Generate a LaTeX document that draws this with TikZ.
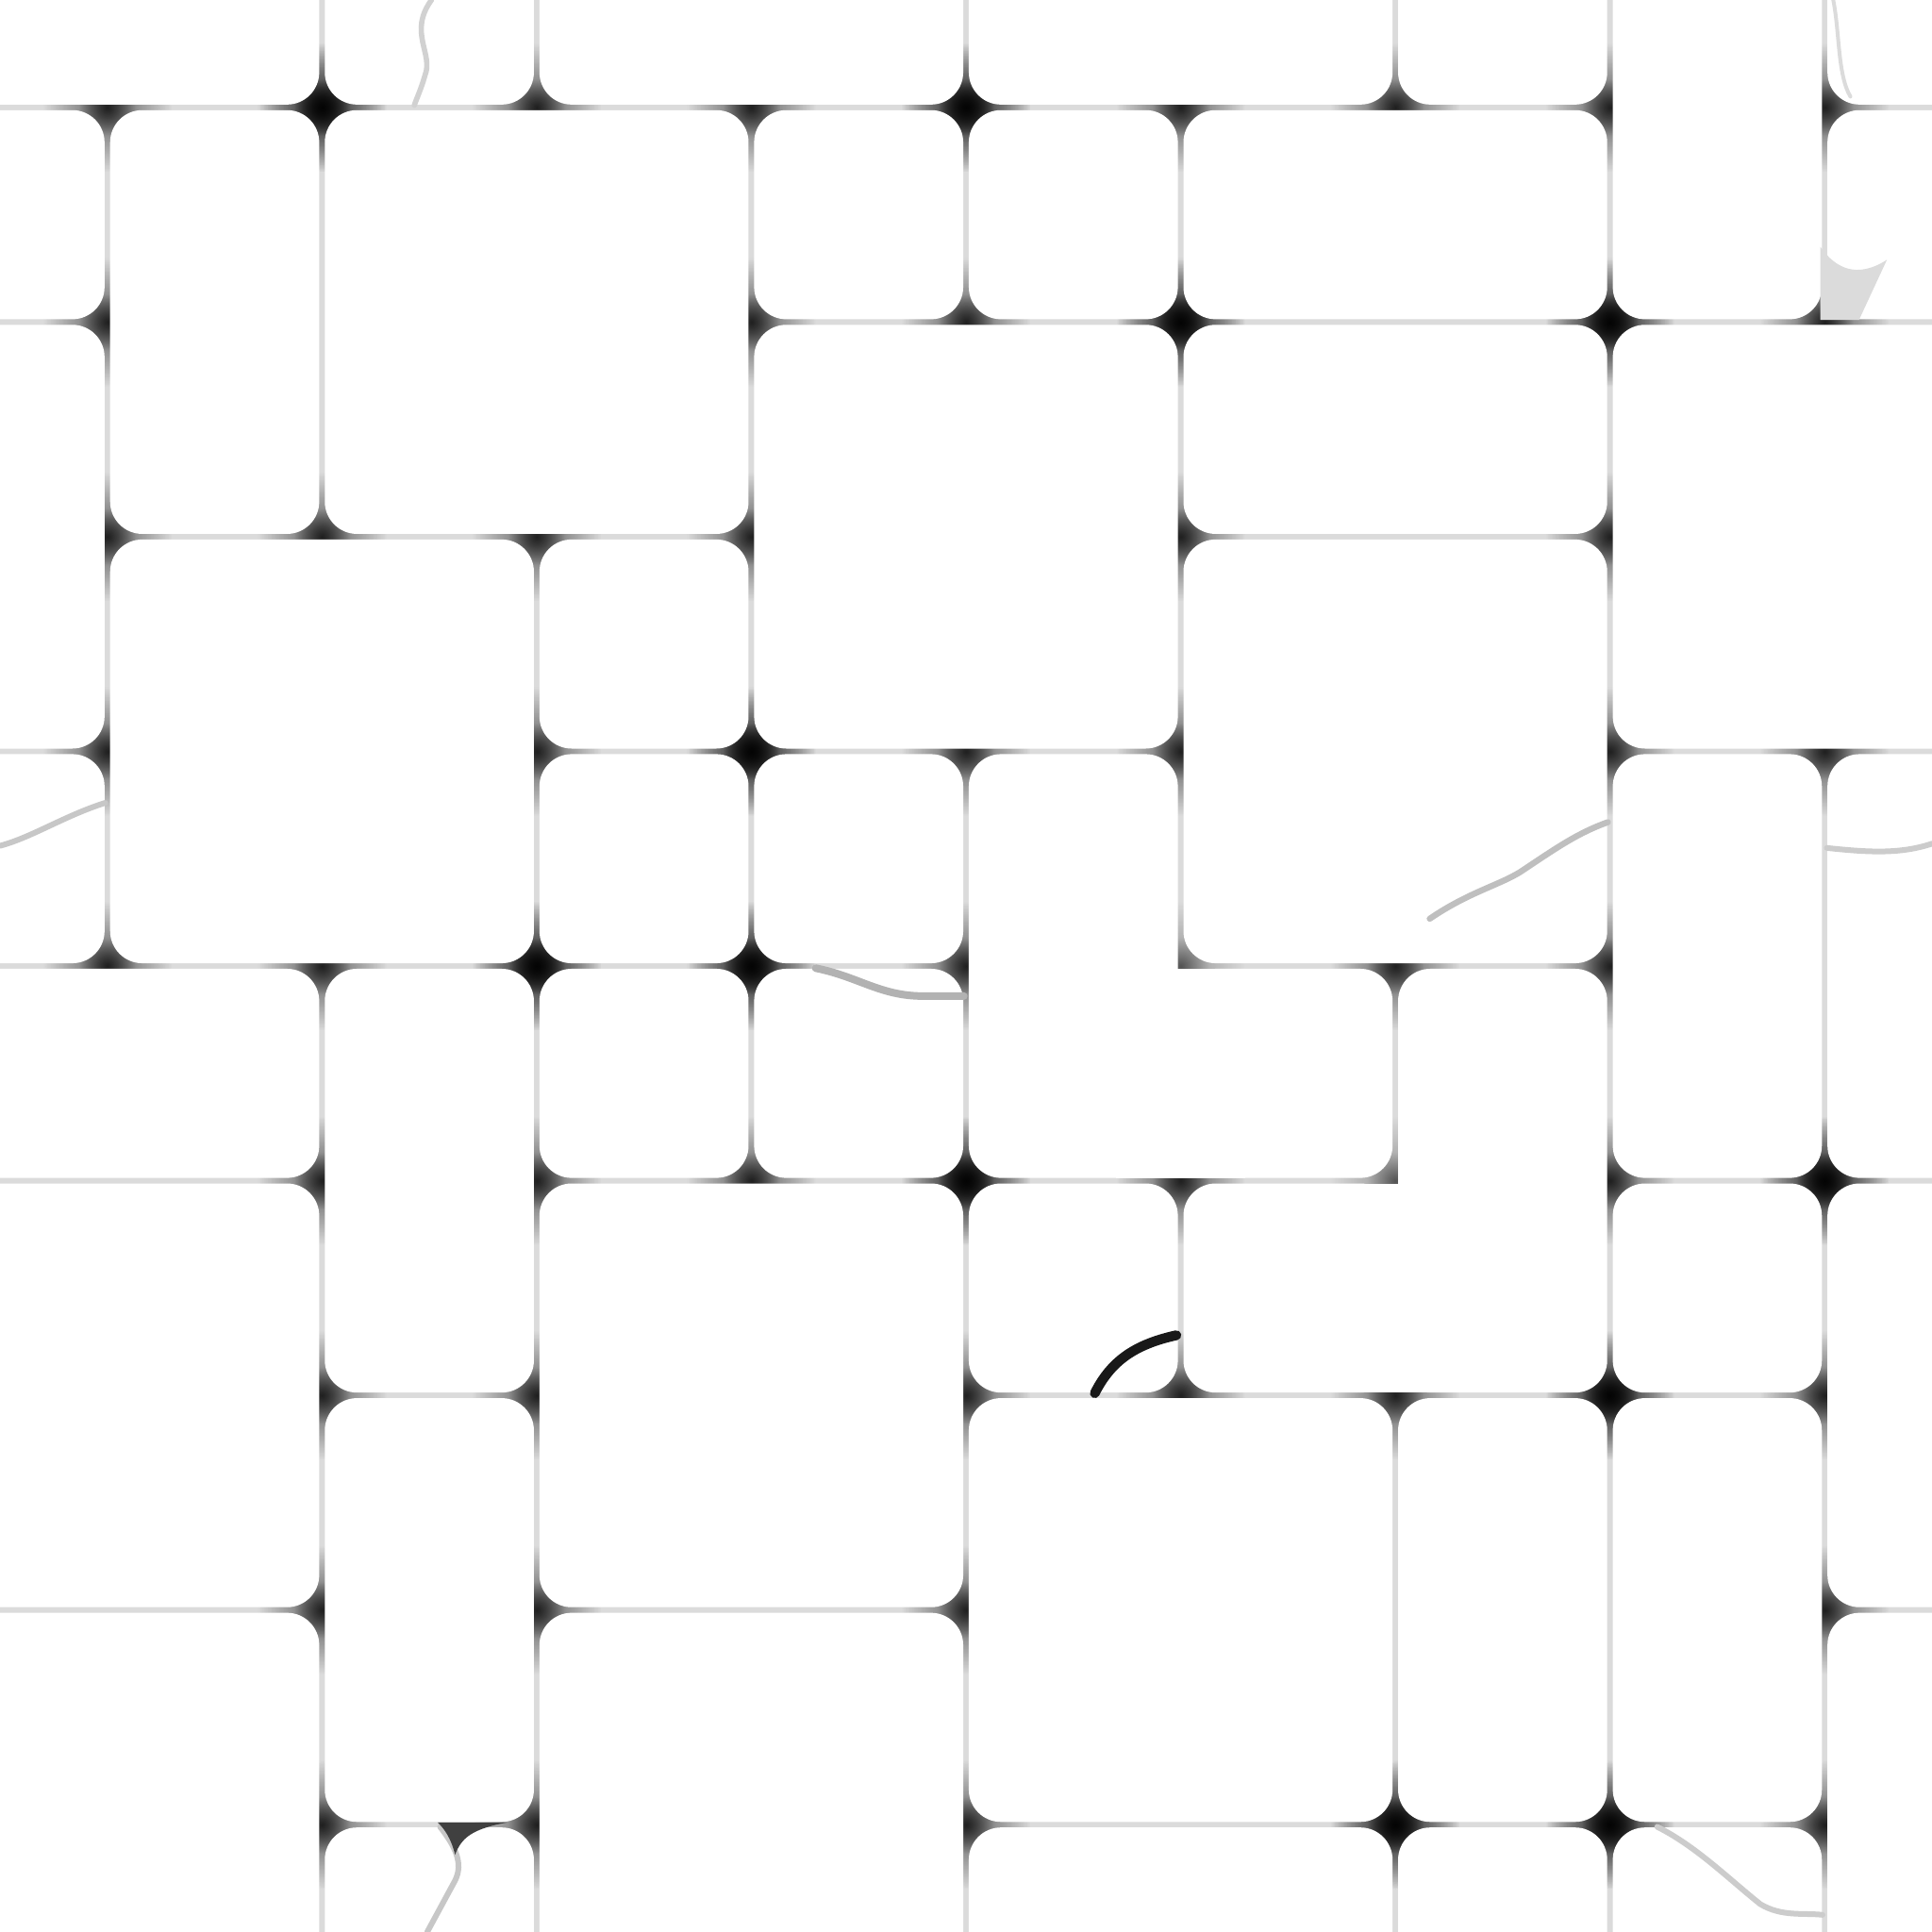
\documentclass[tikz,border=0pt]{standalone}
\usetikzlibrary{fadings}
\pgfdeclareradialshading{blobsh}{\pgfpoint{0cm}{0cm}}{color(0bp)=(pgftransparent!0); color(4bp)=(pgftransparent!25); color(11bp)=(pgftransparent!70); color(25bp)=(pgftransparent!100); color(50bp)=(pgftransparent!100)}
\pgfdeclarefading{blobfade}{\pgfuseshading{blobsh}}
\tikzset{
  blob/.style={black, path fading=blobfade, fill opacity=0.62},
  stonefill/.style={white, rounded corners=0.15cm},
  crack/.style={line width=0.75pt, black!22, line cap=round},
}
\def\stonelist{-0.5/1.5/-0.5/0.5, 1.5/2.5/-0.5/0.5, 2.5/4.5/-0.5/0.5, 4.5/6.5/-0.5/0.5, 6.5/7.5/-0.5/0.5, 7.5/8.5/-0.5/1.5, 8.5/9.5/-0.5/0.5,
-0.5/0.5/0.5/1.5, 0.5/1.5/0.5/2.5, 1.5/3.5/0.5/2.5, 3.5/4.5/0.5/1.5, 4.5/5.5/0.5/1.5, 5.5/7.5/0.5/1.5, 8.5/9.5/0.5/1.5,
-0.5/0.5/1.5/3.5, 3.5/5.5/1.5/3.5, 5.5/7.5/1.5/2.5, 7.5/9.5/1.5/3.5,
0.5/2.5/2.5/4.5, 2.5/3.5/2.5/3.5, 5.5/7.5/2.5/4.5,
-0.5/0.5/3.5/4.5, 2.5/3.5/3.5/4.5, 3.5/4.5/3.5/4.5, 7.5/8.5/3.5/5.5, 8.5/9.5/3.5/5.5,
-0.5/1.5/4.5/5.5, 1.5/2.5/4.5/6.5, 2.5/3.5/4.5/5.5, 3.5/4.5/4.5/5.5,
4.5/5.5/5.5/6.5, -0.5/1.5/5.5/7.5, 2.5/4.5/5.5/7.5, 7.5/8.5/5.5/6.5, 8.5/9.5/5.5/7.5,
1.5/2.5/6.5/8.5, 4.5/6.5/6.5/8.5, 6.5/7.5/6.5/8.5, 7.5/8.5/6.5/8.5,
-0.5/1.5/7.5/9.5, 2.5/4.5/7.5/9.5, 8.5/9.5/7.5/9.5,
1.5/2.5/8.5/9.5, 4.5/6.5/8.5/9.5, 6.5/7.5/8.5/9.5, 7.5/8.5/8.5/9.5}
\def\Lcorners{(4.5,3.5),(5.5,3.5),(4.5,5.5),(6.5,4.5),(6.5,5.5),(6.5,4.5),(7.5,4.5),(7.5,6.5),(5.5,5.5),(5.5,6.5)}
\begin{document}
\begin{tikzpicture}[yscale=-1]
\useasboundingbox (0,0) rectangle (9,9);
\clip (0,0) rectangle (9,9);
\def\g{0.013}
% joints (background)
\fill[black!14] (0,0) rectangle (9,9);
% corner blobs
\foreach \a/\b/\c/\d in \stonelist {
  \foreach \p in {(\a,\c),(\b,\c),(\a,\d),(\b,\d)}
    \fill[blob] \p circle (0.3);
}
\foreach \p in \Lcorners
  \fill[blob] \p circle (0.3);
% rectangular stones
\foreach \a/\b/\c/\d in \stonelist {
  \fill[stonefill] ({\a+\g},{\c+\g}) rectangle ({\b-\g},{\d-\g});
}
% L-shaped stone 1
\fill[stonefill] ({4.5+\g},{3.5+\g}) rectangle ({5.5-\g},{5.5-\g});
\fill[stonefill] ({5.5+\g},{4.5+\g}) rectangle ({6.5-\g},{5.5-\g});
\fill[white] (5.2,{4.5+\g}) rectangle (5.8,{5.5-\g});
% L-shaped stone 2
\fill[stonefill] ({6.5+\g},{4.5+\g}) rectangle ({7.5-\g},{6.5-\g});
\fill[stonefill] ({5.5+\g},{5.5+\g}) rectangle ({6.5-\g},{6.5-\g});
\fill[white] (6.2,{5.5+\g}) rectangle (6.8,{6.5-\g});
% cracks
\draw[crack, black!18, line width=0.7pt] (2.01,0) .. controls (1.90,0.15) and (2.02,0.25) .. (1.98,0.35) .. controls (1.96,0.42) and (1.94,0.46) .. (1.93,0.49);
\draw[crack] (0,3.94) .. controls (0.15,3.90) and (0.3,3.80) .. (0.49,3.74);
\draw[crack, black!25, line width=0.8pt] (6.66,4.28) .. controls (6.85,4.15) and (7.0,4.12) .. (7.1,4.05) .. controls (7.25,3.95) and (7.35,3.88) .. (7.49,3.83);
\draw[crack, black!20] (8.51,3.95) .. controls (8.7,3.97) and (8.85,3.98) .. (9.0,3.93);
\draw[crack, black!30, line width=1pt] (3.80,4.51) .. controls (4.0,4.55) and (4.1,4.64) .. (4.30,4.64) -- (4.49,4.64);
\draw[crack, black!90, line width=1.3pt] (5.10,6.49) .. controls (5.18,6.33) and (5.30,6.26) .. (5.48,6.22);
\draw[crack] (2.05,8.51) .. controls (2.12,8.6) and (2.16,8.68) .. (2.12,8.76) -- (1.99,9.0);
\fill[black!75] (2.04,8.49) -- (2.36,8.49) .. controls (2.2,8.52) and (2.15,8.56) .. (2.12,8.64) .. controls (2.10,8.56) and (2.07,8.52) .. cycle;
\draw[crack, black!20] (7.72,8.51) .. controls (7.9,8.6) and (8.05,8.75) .. (8.2,8.87) .. controls (8.3,8.93) and (8.4,8.91) .. (8.49,8.92);
\fill[black!14] (8.48,1.15) -- (8.48,1.49) -- (8.66,1.49) -- (8.79,1.21) .. controls (8.65,1.30) and (8.55,1.25) .. cycle;
\draw[crack, black!14, line width=0.5pt] (8.54,0) .. controls (8.57,0.15) and (8.56,0.35) .. (8.62,0.45);
\end{tikzpicture}
\end{document}
